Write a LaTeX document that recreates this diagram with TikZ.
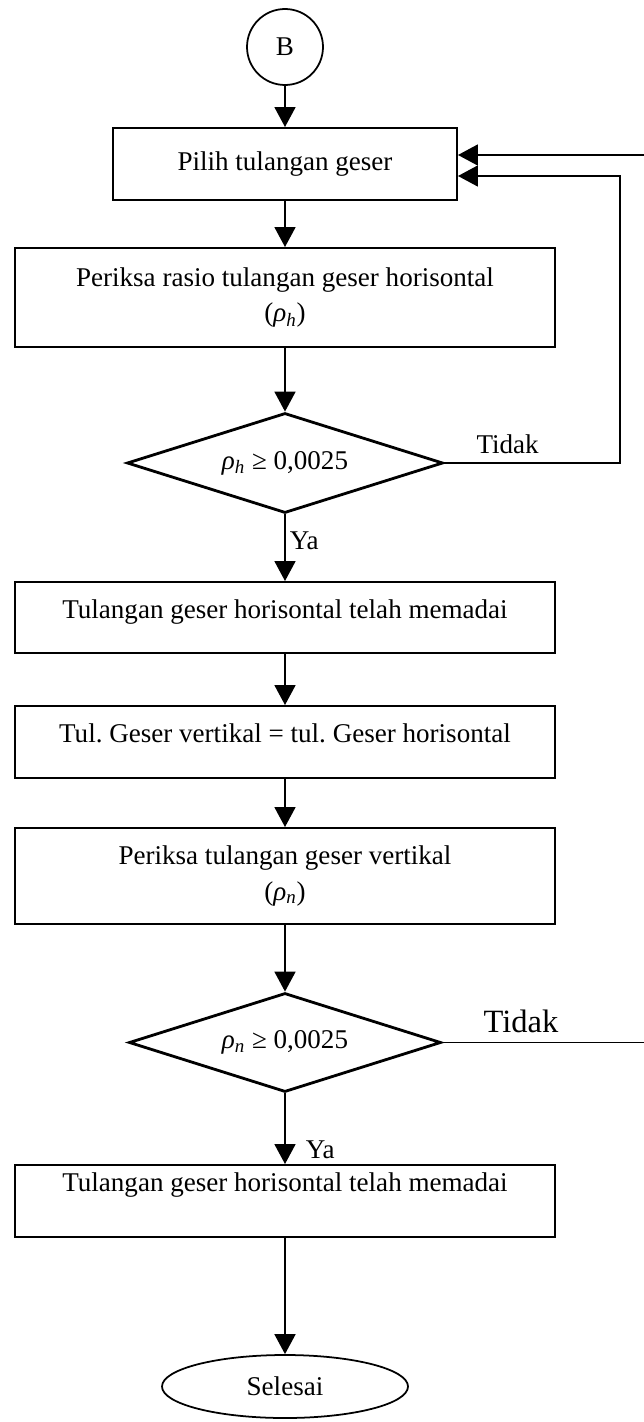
\documentclass[tikz,border=0pt]{standalone}
\usepackage{fontspec}
\setmainfont{Liberation Serif}
\usepackage{tikz}
\usetikzlibrary{positioning}
\usetikzlibrary{arrows.meta}
\usetikzlibrary{shapes,calc}

\newcommand{\txt}{\fontsize{15.4pt}{20pt}\selectfont}
\newcommand{\rhoh}{\textit{ρ\textsubscript{h}}}
\newcommand{\rhon}{\textit{ρ\textsubscript{n}}}

\begin{document}
\begin{tikzpicture}
	\useasboundingbox (0,0) rectangle (12.88,-28.44);

	\begin{scope}[every node/.style={draw, line width=1.1pt, font=\txt, align=center}]
	    \node[circle, line width=1pt, minimum size=1.52cm] (B) at (5.7,-0.94) {B};
	    \node[minimum width=6.88cm, minimum height=1.44cm] (pilih) at (5.7,-3.28) {Pilih tulangan geser};
	    \node[minimum width=10.8cm, minimum height=1.98cm] (rasio) at (5.7,-5.95) {Periksa rasio tulangan geser horisontal\\(\rhoh)};
	    \node[diamond, aspect=3.16, line width=1.6pt, minimum width=6.32cm, minimum height=2cm, inner sep=0pt] (cekh) at (5.7,-9.26) {\rhoh{} ≥ 0,0025};
	    \node[minimum width=10.8cm, minimum height=1.42cm, text height=10.8pt, text depth=0.32cm] (cukuph) at (5.7,-12.35) {Tulangan geser horisontal telah memadai};
	    \node[minimum width=10.8cm, minimum height=1.44cm, text height=10.8pt, text depth=0.34cm] (samakan) at (5.7,-14.84) {Tul.\ Geser vertikal = tul.\ Geser horisontal};
	    \node[minimum width=10.8cm, minimum height=1.92cm] (vertikal) at (5.7,-17.52) {Periksa tulangan geser vertikal\\(\rhon)};
	    \node[diamond, aspect=3.15, line width=1.6pt, minimum width=6.24cm, minimum height=1.98cm, inner sep=0pt] (cekn) at (5.7,-20.85) {\rhon{} ≥ 0,0025};
	    \node[minimum width=10.8cm, minimum height=1.44cm, inner ysep=0pt, text height=10.8pt, text depth=0.76cm] (cukupn) at (5.7,-24.02) {Tulangan geser horisontal telah memadai};
	    \node[ellipse, line width=1pt, minimum width=4.92cm, minimum height=1.26cm] (selesai) at (5.7,-27.73) {Selesai};
	\end{scope}

	\coordinate (loopR) at (12.4,-9.26);
	\coordinate (loopT) at (12.4,-3.52);
	\coordinate (dariN) at (12.88,-3.1);
	\coordinate (keluarN) at (12.88,-20.85);

	\begin{scope}[>={Triangle[length=0.4cm, width=0.42cm]}, line width=1pt,
	              every node/.style={font=\txt},
	              every edge/.style={draw=black, line width=1pt}]
    	\path [->] (B) edge (pilih);
    	\path [->] (pilih) edge (rasio);
    	\path [->] (rasio) edge (cekh);
    	\path [->] (cekh) edge node[pos=0.4, right=0.08cm, inner sep=0pt] {Ya} (cukuph);
    	\path [->] (cukuph) edge (samakan);
    	\path [->] (samakan) edge (vertikal);
    	\path [->] (vertikal) edge (cekn);
    	\path [->] (cekn) edge node[pos=0.8, right=0.4cm, inner sep=0pt] {Ya} (cukupn);
    	\path [->] (cukupn) edge (selesai);

    	\draw [->] (cekh.east) -- node[pos=0.36, above=0.06cm] {Tidak} (loopR) -- (loopT) -- (loopT -| pilih.east);
    	\draw [->] (dariN) -- (dariN -| pilih.east);
    	\draw (cekn.east) -- node[pos=0.39, above=0.05cm, font=\fontsize{18.5pt}{22pt}\selectfont] {Tidak} (keluarN);
	\end{scope}
\end{tikzpicture}
\end{document}
